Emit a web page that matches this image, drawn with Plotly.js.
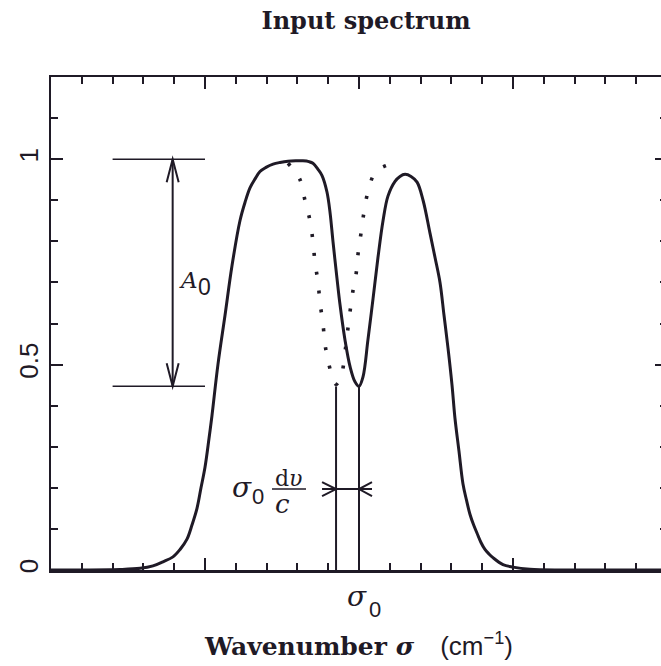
<!DOCTYPE html>
<html>
<head>
<meta charset="utf-8">
<script src="https://cdn.plot.ly/plotly-3.0.1.min.js"></script>
<style>
html,body{margin:0;padding:0;overflow:hidden;background:#fff;}
#chart{width:680px;height:666px;}
</style>
</head>
<body>
<div id="chart"></div>
<script>
// ---- data (x in units of major ticks, sigma0 = 2) ----
const solidX = [0,0.253,0.383,0.448,0.578,0.662,0.727,0.792,0.838,0.883,0.916,0.948,0.974,1.000,1.026,1.045,1.084,1.130,1.175,1.227,1.260,1.292,1.325,1.357,1.396,1.442,1.487,1.539,1.590,1.636,1.675,1.701,1.734,1.760,1.792,1.812,1.831,1.857,1.877,1.909,1.942,1.974,2.000,2.026,2.058,2.091,2.123,2.156,2.188,2.234,2.266,2.299,2.338,2.377,2.416,2.461,2.494,2.526,2.552,2.578,2.604,2.623,2.649,2.675,2.698,2.721,2.744,2.766,2.792,2.818,2.844,2.870,2.935,3.000,3.110,3.305,3.565,4.000];
const solidY = [0,0,0.0005,0.001,0.004,0.01,0.02,0.032,0.05,0.075,0.11,0.15,0.2,0.25,0.32,0.375,0.50,0.62,0.74,0.85,0.895,0.93,0.952,0.97,0.98,0.988,0.992,0.995,0.996,0.996,0.994,0.99,0.975,0.96,0.92,0.87,0.80,0.71,0.645,0.56,0.495,0.458,0.447,0.47,0.56,0.66,0.76,0.85,0.91,0.946,0.958,0.963,0.958,0.944,0.90,0.82,0.76,0.70,0.62,0.54,0.45,0.37,0.29,0.21,0.17,0.135,0.11,0.09,0.067,0.05,0.039,0.03,0.013,0.007,0.002,0,0,0];
const dotX = [1.539,1.617,1.649,1.682,1.701,1.714,1.734,1.747,1.766,1.779,1.799,1.831,1.851,1.870,1.890,1.909,1.942,1.961,1.981,1.994,2.013,2.032,2.058,2.110,2.221];
const dotY = [0.99,0.95,0.90,0.85,0.80,0.75,0.70,0.65,0.60,0.55,0.51,0.465,0.452,0.46,0.48,0.53,0.63,0.68,0.72,0.77,0.82,0.87,0.92,0.97,0.99];
const xTickVals = [0,1,2,3,4];
const yTickVals = [0,0.5,1];
const yTickText = ['0','0.5','1'];
const SIGMA0 = 2;          // line centre
const SHIFT = 0.149;       // sigma0 dv/c
const A0_TOP = 1;
const A0_BOTTOM = 0.447;
const A0_ARROW_X = 0.79;
const A0_LINE_X = [0.40, 1.0];
const SHIFT_ARROW_Y = 0.197;

const INK = '#1f1a26';
const PXX = 1/154, PXY = 1/410.8;   // data units per pixel

const traces = [
  {x: solidX, y: solidY, mode:'lines', line:{color:INK, width:3, shape:'spline', smoothing:1}, hoverinfo:'skip', showlegend:false},
  {x: dotX, y: dotY, mode:'lines', line:{color:INK, width:3.6, dash:'3px,16px', shape:'spline', smoothing:1}, hoverinfo:'skip', showlegend:false}
];

const ln = (x0,y0,x1,y1,w)=>({type:'line',x0,y0,x1,y1,xref:'x',yref:'y',line:{color:INK,width:w}});
const pathOf = pts => 'M' + pts.map(p=>p[0]+','+p[1]).join(' L');
const pth = (pts,w)=>({type:'path',path:pathOf(pts),xref:'x',yref:'y',line:{color:INK,width:w}});

const sL = SIGMA0 - SHIFT;
const shapes = [
  ln(A0_LINE_X[0], A0_TOP, A0_LINE_X[1], A0_TOP, 1.5),
  ln(A0_LINE_X[0], A0_BOTTOM, A0_LINE_X[1], A0_BOTTOM, 1.5),
  ln(A0_ARROW_X, A0_BOTTOM, A0_ARROW_X, A0_TOP, 2),
  pth([[A0_ARROW_X-6*PXX, A0_TOP-23*PXY],[A0_ARROW_X, A0_TOP],[A0_ARROW_X+6*PXX, A0_TOP-23*PXY]], 2),
  pth([[A0_ARROW_X-6*PXX, A0_BOTTOM+23*PXY],[A0_ARROW_X, A0_BOTTOM],[A0_ARROW_X+6*PXX, A0_BOTTOM+23*PXY]], 2),
  ln(sL, 0, sL, A0_BOTTOM, 2),
  ln(SIGMA0, 0, SIGMA0, A0_BOTTOM, 2),
  ln(sL-14*PXX, SHIFT_ARROW_Y, SIGMA0+13*PXX, SHIFT_ARROW_Y, 2),
  pth([[sL-14*PXX, SHIFT_ARROW_Y+7*PXY],[sL, SHIFT_ARROW_Y],[sL-14*PXX, SHIFT_ARROW_Y-7*PXY]], 2),
  pth([[SIGMA0+13*PXX, SHIFT_ARROW_Y+7*PXY],[SIGMA0, SHIFT_ARROW_Y],[SIGMA0+13*PXX, SHIFT_ARROW_Y-7*PXY]], 2),
  // fraction bar
  ln(1.435, SHIFT_ARROW_Y, 1.656, SHIFT_ARROW_Y, 1.5)
];

const serif = 'DejaVu Serif';
const sans = 'Liberation Sans';
const ann = (x,y,text,family,size,extra)=>Object.assign({x,y,xref:'x',yref:'y',text,showarrow:false,xanchor:'center',yanchor:'middle',font:{family,size,color:INK}},extra||{});

const annotations = [
  ann(0.89, 0.706, '<i>A</i>', serif, 23),
  ann(0.995, 0.689, '0', sans, 23),
  ann(1.240, 0.200, '<i>σ</i>', serif, 28),
  ann(1.344, 0.180, '0', sans, 22),
  ann(1.545, 0.222, 'd<i>υ</i>', serif, 22),
  ann(1.505, 0.160, '<i>c</i>', serif, 26),
  // sigma0 label under the x axis (y in paper units)
  ann(1.985, -0.065/1.2, '<i>σ</i>', serif, 28, {yref:'paper'}),
  ann(2.105, -0.095/1.2, '0', sans, 22, {yref:'paper'})
];

const layout = {
  width: 680, height: 666,
  margin: {l:51, r:13, t:77, b:96},
  paper_bgcolor:'#fff', plot_bgcolor:'#fff',
  title: {text:'Input spectrum', font:{family:serif, size:24, weight:'bold', color:INK},
          xref:'container', x:366/680, xanchor:'center', yref:'container', y:1-21/666, yanchor:'middle'},
  xaxis: {
    range:[0,4], showgrid:false, zeroline:false, showline:true, linecolor:INK, linewidth:2.5, mirror:'allticks',
    ticks:'inside', ticklen:12, tickwidth:2, tickcolor:INK,
    tickmode:'array', tickvals:xTickVals, ticktext:xTickVals.map(()=>''),
    minor:{ticks:'inside', ticklen:7, tickwidth:2, tickcolor:INK, dtick:0.2, tick0:0, showgrid:false},
    title:{text:'Wavenumber <i>σ</i>\u00a0\u00a0 <span style="font-family:Liberation Sans;font-weight:normal;font-size:26px">(cm<sup>−1</sup>)</span>',
           font:{family:serif, size:25, weight:'bold', color:INK}, standoff:64},
    fixedrange:true
  },
  yaxis: {
    range:[0,1.2], showgrid:false, zeroline:false, showline:true, linecolor:INK, linewidth:2.5, mirror:'allticks',
    ticks:'inside', ticklen:12, tickwidth:2, tickcolor:INK,
    tickmode:'array', tickvals:yTickVals, ticktext:yTickText, tickangle:-90,
    tickfont:{family:sans, size:26, color:INK}, ticklabelstandoff:0,
    minor:{ticks:'inside', ticklen:7, tickwidth:2, tickcolor:INK, dtick:0.1, tick0:0, showgrid:false},
    fixedrange:true
  },
  shapes, annotations, showlegend:false
};

Plotly.newPlot('chart', traces, layout, {displayModeBar:false, staticPlot:true});
</script>
</body>
</html>
